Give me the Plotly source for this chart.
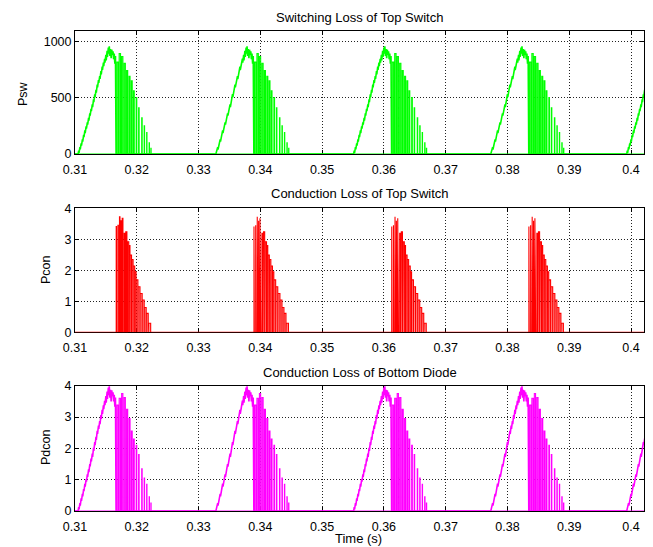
import plotly.graph_objects as go

# ---- data (times in s, per-cycle offsets in ms) ----
cycle_starts = [0.3105, 0.3328, 0.3551, 0.3773, 0.3993]

ramp_tau_ms = [0.00, 0.10, 0.15, 0.30, 0.35, 0.50, 0.55, 0.70, 0.75, 0.90, 0.95,
               1.10, 1.15, 1.30, 1.35, 1.50, 1.55, 1.70, 1.75, 1.90, 1.95, 2.10,
               2.15, 2.30, 2.35, 2.50, 2.55, 2.70, 2.75, 2.90, 2.95, 3.10, 3.15,
               3.30, 3.35, 3.50, 3.55, 3.70, 3.75, 3.90, 3.95, 4.10, 4.15, 4.30,
               4.35, 4.50, 4.55, 4.70, 4.75, 4.90, 4.95, 5.05, 5.15, 5.25, 5.35,
               5.45, 5.55, 5.65, 5.75, 5.85, 5.95, 6.05, 6.15]
psw_ramp = [0, 30, 10, 60, 40, 95, 75, 130, 110, 170, 150, 210, 185, 245, 225,
            280, 260, 320, 295, 360, 340, 400, 380, 440, 415, 485, 460, 530, 505,
            570, 545, 615, 590, 655, 630, 690, 665, 735, 705, 775, 745, 810, 780,
            845, 810, 880, 830, 915, 860, 945, 890, 955, 870, 930, 850, 925, 880,
            910, 840, 890, 800, 870, 0]
pdcon_ramp = [0, 0.12, 0.05, 0.25, 0.17, 0.4, 0.32, 0.55, 0.47, 0.7, 0.63, 0.87,
              0.78, 1.02, 0.94, 1.17, 1.09, 1.33, 1.24, 1.5, 1.42, 1.67, 1.58,
              1.83, 1.73, 2.02, 1.92, 2.2, 2.1, 2.37, 2.27, 2.56, 2.46, 2.73, 2.62,
              2.87, 2.77, 3.06, 2.94, 3.23, 3.1, 3.37, 3.25, 3.52, 3.38, 3.67, 3.46,
              3.81, 3.58, 3.94, 3.7, 3.98, 3.62, 3.87, 3.5, 3.85, 3.67, 3.79, 3.5,
              3.71, 3.33, 3.62, 0]

sw_pulse_on_ms = [6.25, 6.65, 7.05, 7.45, 7.85, 8.25, 8.62, 8.97, 9.40, 9.80,
                  10.30, 10.70, 11.10, 11.50, 11.78]
sw_pulse_w_ms = [0.22, 0.22, 0.20, 0.20, 0.18, 0.16, 0.14, 0.12, 0.10, 0.08,
                 0.07, 0.06, 0.05, 0.05, 0.04]
psw_pulse_h = [815, 890, 865, 805, 740, 690, 650, 560, 500, 410,
               320, 250, 190, 100, 50]
pdcon_pulse_h = [3.38, 3.6, 3.75, 3.62, 3.25, 2.95, 2.55, 2.3, 2.1, 1.8,
                 1.35, 1.05, 0.85, 0.45, 0.25]

pcon_pulse_on_ms = [6.17, 6.45, 6.70, 6.92, 7.14, 7.46, 7.72, 8.00, 8.22, 8.43,
                    8.68, 8.92, 9.18, 9.40, 9.72, 10.05, 10.40, 10.72, 11.05, 11.40]
pcon_pulse_w_ms = [0.05, 0.06, 0.08, 0.09, 0.12, 0.15, 0.18, 0.20, 0.18, 0.22,
                   0.22, 0.24, 0.20, 0.28, 0.30, 0.32, 0.30, 0.30, 0.30, 0.35]
pcon_pulse_h = [3.41, 3.45, 3.73, 3.6, 3.68, 3.19, 3.24, 2.92, 2.8, 2.49,
                2.35, 2.14, 1.95, 1.69, 1.47, 1.25, 1.04, 0.8, 0.61, 0.29]

x_ticks = [0.31, 0.32, 0.33, 0.34, 0.35, 0.36, 0.37, 0.38, 0.39, 0.40]
x_tick_text = ["0.31", "0.32", "0.33", "0.34", "0.35", "0.36", "0.37", "0.38", "0.39", "0.4"]
psw_ticks = [0, 500, 1000]
p_ticks = [0, 1, 2, 3, 4]

titles = ["Switching Loss of Top Switch", "Conduction Loss of Top Switch",
          "Conduction Loss of Bottom Diode"]
ylabels = ["Psw", "Pcon", "Pdcon"]


def build_ramps(ramp_tau, ramp_v):
    xs, ys = [0.305], [0]
    for t0 in cycle_starts:
        for tau, v in zip(ramp_tau, ramp_v):
            xs.append(t0 + tau / 1000.0)
            ys.append(v)
    xs.append(0.42)
    ys.append(0)
    return xs, ys


def build_pulses(on, w, h):
    xs, ys = [0.305], [0]
    for t0 in cycle_starts:
        for a, ww, hh in zip(on, w, h):
            t1 = t0 + a / 1000.0
            t2 = t1 + ww / 1000.0
            xs += [t1, t1, t2, t2]
            ys += [0, hh, hh, 0]
    xs.append(0.42)
    ys.append(0)
    return xs, ys


FONT = "Liberation Sans, Arial, sans-serif"
fig = go.Figure()


def add_series(ramp_xy, pulse_xy, color, fillcolor, ax, ay):
    if ramp_xy is not None:
        fig.add_trace(go.Scatter(x=ramp_xy[0], y=ramp_xy[1], mode="lines",
                                 line=dict(color=color, width=1.6),
                                 xaxis=ax, yaxis=ay, showlegend=False))
    fig.add_trace(go.Scatter(x=pulse_xy[0], y=pulse_xy[1], mode="lines",
                             line=dict(color=color, width=1.1),
                             fill="tozeroy", fillcolor=fillcolor,
                             xaxis=ax, yaxis=ay, showlegend=False))


add_series(build_ramps(ramp_tau_ms, psw_ramp),
           build_pulses(sw_pulse_on_ms, sw_pulse_w_ms, psw_pulse_h),
           "#00ff00", "rgba(0,255,0,0.35)", "x", "y")
add_series(None,
           build_pulses(pcon_pulse_on_ms, pcon_pulse_w_ms, pcon_pulse_h),
           "#ff0000", "rgba(255,0,0,0.45)", "x2", "y2")
add_series(build_ramps(ramp_tau_ms, pdcon_ramp),
           build_pulses(sw_pulse_on_ms, sw_pulse_w_ms, pdcon_pulse_h),
           "#ff00ff", "rgba(255,0,255,0.35)", "x3", "y3")

xcommon = dict(range=[0.31, 0.4021], tickvals=x_ticks, ticktext=x_tick_text,
               showline=True, linecolor="black", linewidth=1, mirror="ticks",
               ticks="inside", ticklen=4, tickcolor="black", ticklabelstandoff=4,
               showgrid=True, gridcolor="#222", griddash="1px,2px", gridwidth=1,
               zeroline=False, layer="below traces", automargin=False,
               tickfont=dict(family=FONT, size=12.5, color="black"))
ycommon = dict(showline=True, linecolor="black", linewidth=1, mirror="ticks",
               ticks="inside", ticklen=4, tickcolor="black",
               showgrid=True, gridcolor="#222", griddash="1px,2px", gridwidth=1,
               zeroline=False, layer="below traces", automargin=False,
               tickfont=dict(family=FONT, size=12.5, color="black"))

top_dom = [0.7438, 1.0]
mid_dom = [0.3723, 0.6306]
bot_dom = [0.0, 0.2610]

# the page body has an 8px default margin, so the figure is sized to fit the window
fig.update_layout(
    width=645, height=539,
    margin=dict(l=67, r=9, t=23, b=36, autoexpand=False),
    paper_bgcolor="white", plot_bgcolor="white",
    showlegend=False,
    xaxis=dict(xcommon, anchor="y"),
    yaxis=dict(ycommon, domain=top_dom, range=[0, 1091], tickvals=psw_ticks, anchor="x"),
    xaxis2=dict(xcommon, anchor="y2"),
    yaxis2=dict(ycommon, domain=mid_dom, range=[0, 4], tickvals=p_ticks, anchor="x2"),
    xaxis3=dict(xcommon, anchor="y3"),
    yaxis3=dict(ycommon, domain=bot_dom, range=[0, 4], tickvals=p_ticks, anchor="x3"),
)

# subplot titles
for txt, ypx in zip(titles, [17, 193, 372]):
    fig.add_annotation(text=txt, xref="paper", yref="paper", x=0.5,
                       y=(511 - ypx) / 480.0, xanchor="center", yanchor="middle",
                       showarrow=False, font=dict(family=FONT, size=13, color="black"))
# y labels
for txt, xpx, ypx in zip(ylabels, [23, 46, 46], [93, 270, 448]):
    fig.add_annotation(text=txt, xref="paper", yref="paper",
                       x=(xpx - 75) / 569.0, y=(511 - ypx) / 480.0,
                       xanchor="center", yanchor="middle", textangle=-90,
                       showarrow=False, font=dict(family=FONT, size=12.5, color="black"))
# x label
fig.add_annotation(text="Time (s)", xref="paper", yref="paper",
                   x=(358 - 75) / 569.0, y=(511 - 538) / 480.0,
                   xanchor="center", yanchor="middle", showarrow=False,
                   font=dict(family=FONT, size=13, color="black"))

fig.write_html("out.html")
